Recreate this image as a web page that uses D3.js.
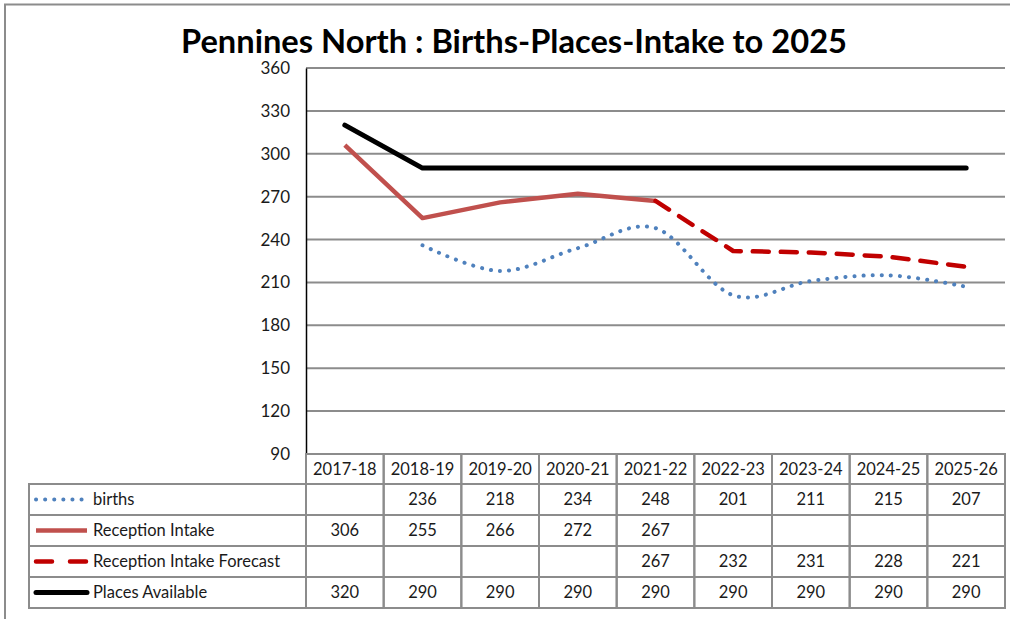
<!DOCTYPE html>
<html>
<head>
<meta charset="utf-8">
<script src="https://cdn.jsdelivr.net/npm/d3@7"></script>
<style>
  body { margin: 0; background: #fff; }
  svg { display: block; font-family: Lato, "Open Sans", sans-serif; }
</style>
</head>
<body>
<svg id="chart" width="1010" height="619"></svg>
<script>
const years = ['2017-18', '2018-19', '2019-20', '2020-21', '2021-22', '2022-23', '2023-24', '2024-25', '2025-26'];
const births = [null, 236, 218, 234, 248, 201, 211, 215, 207];
const intake = [306, 255, 266, 272, 267, null, null, null, null];
const forecast = [null, null, null, null, 267, 232, 231, 228, 221];
const places = [320, 290, 290, 290, 290, 290, 290, 290, 290];
const yTicks = [90, 120, 150, 180, 210, 240, 270, 300, 330, 360];

const series = [
    { name: 'births', values: births, color: '#4F81BD', width: 4, dash: '0.1 9', cap: 'round', curve: d3.curveCardinal.tension(0) },
    { name: 'Reception Intake', values: intake, color: '#C0504D', width: 4.5, dash: null, cap: 'butt', curve: d3.curveLinear },
    { name: 'Reception Intake Forecast', values: forecast, color: '#C00000', width: 4.5, dash: '16 12', cap: 'round', curve: d3.curveLinear },
    { name: 'Places Available', values: places, color: '#000000', width: 5, dash: null, cap: 'round', curve: d3.curveLinear },
];

const svg = d3.select('#chart');
const plotLeft = 306, plotRight = 1005, plotTop = 68, plotBottom = 454;
const rowH = 31;
const labelLeft = 29;
const textColor = '#1a1a1a';

const x = d3.scaleBand().domain(years).range([plotLeft, plotRight]);
const y = d3.scaleLinear().domain([90, 360]).range([plotBottom, plotTop]);

// outer frame (only top and left fall inside the picture)
svg.append('path')
    .attr('d', `M5,619 V4.5 H1010`)
    .attr('fill', 'none')
    .attr('stroke', '#8c8c8c')
    .attr('stroke-width', 2);

// title
svg.append('text')
    .attr('x', 514)
    .attr('y', 53)
    .attr('text-anchor', 'middle')
    .attr('font-size', 32)
    .attr('font-weight', 'bold')
    .attr('textLength', 666)
    .attr('lengthAdjust', 'spacingAndGlyphs')
    .attr('fill', '#000')
    .text('Pennines North : Births-Places-Intake to 2025');

// gridlines
svg.append('g')
    .selectAll('line')
    .data(yTicks.filter(t => t > 90))
    .join('line')
    .attr('x1', plotLeft)
    .attr('x2', plotRight)
    .attr('y1', d => y(d))
    .attr('y2', d => y(d))
    .attr('stroke', '#8c8c8c')
    .attr('stroke-width', 2);

// y axis
const yAxis = d3.axisLeft(y).tickValues(yTicks).tickSize(0).tickPadding(16);
const ga = svg.append('g').attr('transform', `translate(${plotLeft},0)`).call(yAxis);
ga.select('.domain').attr('stroke', '#000').attr('stroke-width', 1.5);
ga.selectAll('text')
    .attr('font-family', 'Lato, "Open Sans", sans-serif')
    .attr('font-size', 17)
    .attr('fill', textColor);

// lines
for (const s of series) {
    const line = d3.line()
        .defined(d => d != null)
        .x((d, i) => x(years[i]) + x.bandwidth() / 2)
        .y(d => y(d))
        .curve(s.curve);
    svg.append('path')
        .datum(s.values)
        .attr('d', line)
        .attr('fill', 'none')
        .attr('stroke', s.color)
        .attr('stroke-width', s.width)
        .attr('stroke-dasharray', s.dash)
        .attr('stroke-linecap', s.cap)
        .attr('stroke-linejoin', 'round');
}

// data table
const table = svg.append('g');
const gridColor = '#8c8c8c';

// header row
years.forEach(yr => {
    table.append('rect')
        .attr('x', x(yr))
        .attr('y', plotBottom)
        .attr('width', x.bandwidth())
        .attr('height', rowH - 1)
        .attr('fill', 'none')
        .attr('stroke', gridColor)
        .attr('stroke-width', 2);
    table.append('text')
        .attr('x', x(yr) + x.bandwidth() / 2)
        .attr('y', plotBottom + 21)
        .attr('text-anchor', 'middle')
        .attr('font-size', 16.5)
        .attr('fill', textColor)
        .text(yr);
});

series.forEach((s, r) => {
    const ry = plotBottom + rowH - 1 + r * rowH;
    table.append('rect')
        .attr('x', labelLeft)
        .attr('y', ry)
        .attr('width', plotLeft - labelLeft)
        .attr('height', rowH)
        .attr('fill', 'none')
        .attr('stroke', gridColor)
        .attr('stroke-width', 2);
    // legend key
    table.append('line')
        .attr('x1', 36)
        .attr('x2', 87)
        .attr('y1', ry + rowH / 2)
        .attr('y2', ry + rowH / 2)
        .attr('stroke', s.color)
        .attr('stroke-width', s.width)
        .attr('stroke-dasharray', s.dash === '16 12' ? '16 18' : s.dash)
        .attr('stroke-linecap', s.cap);
    table.append('text')
        .attr('x', 93)
        .attr('y', ry + 21)
        .attr('font-size', 16.5)
        .attr('fill', textColor)
        .text(s.name);
    years.forEach((yr, i) => {
        table.append('rect')
            .attr('x', x(yr))
            .attr('y', ry)
            .attr('width', x.bandwidth())
            .attr('height', rowH)
            .attr('fill', 'none')
            .attr('stroke', gridColor)
            .attr('stroke-width', 2);
        if (s.values[i] != null) {
            table.append('text')
                .attr('x', x(yr) + x.bandwidth() / 2)
                .attr('y', ry + 21)
                .attr('text-anchor', 'middle')
                .attr('font-size', 16.5)
                .attr('fill', textColor)
                .text(s.values[i]);
        }
    });
});
</script>
</body>
</html>
